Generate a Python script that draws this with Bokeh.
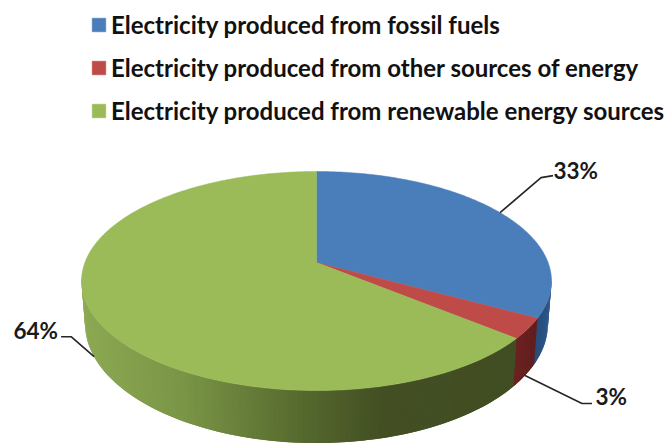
import numpy as np
from bokeh.plotting import figure
from bokeh.models import Legend, LegendItem
from bokeh.core.properties import value
from bokeh.embed import file_html
from bokeh.resources import INLINE

# ---- data ----
categories = ["Electricity produced from fossil fuels",
              "Electricity produced from other sources of energy",
              "Electricity produced from renewable energy sources"]
shares = [33, 3, 64]
share_labels = ["33%", "3%", "64%"]

# ---- style / layout ----
top_colors = ["#4A7EBB", "#BE4B48", "#9BBB59"]
side_stops = [
    ([500, 550], ["#1C3A60", "#2B5486"]),
    ([510, 540], ["#6E2221", "#5E1D1D"]),
    ([85, 180, 300, 380, 520], ["#8CA852", "#7A9546", "#55692E", "#434F23", "#414D22"]),
]
CX, CY = 316, 262      # apex of the pie in the picture
B, A, K = 231.6, 106.4, 0.169   # perspective projection of the disc
DROP, YS, XS = 41, 1.09, 0.985  # lower rim relative to the upper rim
# leader elbow/end offsets from the slice's rim point, and label position
leaders = [((41, -35), (53, -37)), ((57, 28), (67, 28)), ((-23, -20), (-33, -20))]
label_xy = [(553, 170), (595, 396), (13, 330)]
W, H = 666, 444


def rim(t, lower=False):
    u, v = np.sin(t), np.cos(t)
    d = 1 + K * v
    X, Y = B * u / d, A * v / d
    if lower:
        X, Y = X * XS, Y * YS - DROP
    return CX + X, CY - Y


def hex_rgb(c):
    return [int(c[i:i + 2], 16) for i in (1, 3, 5)]


def shade(x, stops):
    xp, cols = stops
    rgb = np.array([hex_rgb(c) for c in cols])
    return "#%02x%02x%02x" % tuple(int(round(np.interp(x, xp, rgb[:, i]))) for i in range(3))


p = figure(width=W, height=H, x_range=(0, W), y_range=(H, 0),
           output_backend="svg", toolbar_location=None, min_border=0,
           outline_line_color=None, background_fill_color="white")
p.axis.visible = False
p.grid.visible = False

edges = np.radians(np.cumsum([0] + shares) * 3.6)
vis0, vis1 = np.radians(98), np.radians(262)
overlap = np.radians(1.0)

# side wall, as narrow strips shaded along the width; each strip is overlapped by the next
xs, ys, cs = [], [], []
for i in range(len(shares)):
    a, b = max(edges[i], vis0), min(edges[i + 1], vis1)
    n = max(int(np.degrees(b - a)), 2)
    ts = np.linspace(a, b, n + 1)
    for t0, t1 in zip(ts[:-1], ts[1:]):
        t2 = min(t1 + overlap, vis1)
        x0, y0 = rim(t0)
        x1, y1 = rim(t2)
        x2, y2 = rim(t2, True)
        x3, y3 = rim(t0, True)
        xs.append([x0, x1, x2, x3])
        ys.append([y0, y1, y2, y3])
        cs.append(shade((x0 + x1) / 2, side_stops[i]))
p.patches(xs, ys, fill_color=cs, line_color=None)

# top face
items = []
for i, cat in enumerate(categories):
    ts = np.linspace(edges[i], edges[i + 1], max(int(shares[i] * 3.6), 3) + 1)
    x, y = rim(ts)
    r = p.patch(np.r_[CX, x], np.r_[CY, y], fill_color=top_colors[i], line_color=top_colors[i], line_width=0.5)
    items.append(LegendItem(label=cat, renderers=[r]))

# leader lines, from the middle of each slice's rim
for i in range(len(shares)):
    mid = (edges[i] + edges[i + 1]) / 2
    lower = vis0 < mid < vis1
    x0, y0 = rim(mid, lower)
    (dx1, dy1), (dx2, dy2) = leaders[i]
    p.line([x0, x0 + dx1, x0 + dx2], [y0, y0 + dy1, y0 + dy2], line_color="#262626", line_width=1.6)

# labels
p.text([q[0] for q in label_xy], [q[1] for q in label_xy], text=share_labels,
       text_font=value("Lato"), text_font_style="bold", text_font_size="22.5px",
       text_color="#1a1a1a", text_align="left", text_baseline="middle")

legend = Legend(items=items, location=(90, H - 125), orientation="vertical",
                background_fill_alpha=0, border_line_color=None, padding=0, margin=0,
                glyph_width=17, glyph_height=17, label_standoff=4, spacing=14,
                label_text_font="Lato", label_text_font_style="bold",
                label_text_font_size="24px", label_text_color="#111111", label_height=25)
p.add_layout(legend, "center")

open("out.html", "w").write(file_html(p, INLINE))
